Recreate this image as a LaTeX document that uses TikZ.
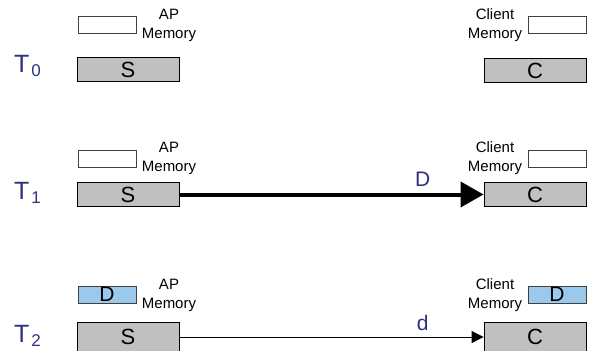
\documentclass[tikz,border=0pt]{standalone}
\usepackage{fontspec}
\setmainfont{Liberation Sans}
\usetikzlibrary{arrows.meta}
\definecolor{boxgray}{RGB}{192,192,192}
\definecolor{memblue}{RGB}{155,201,235}
\definecolor{navy}{RGB}{46,49,128}
\newcommand{\tsub}[1]{T\hspace{2pt}\raisebox{-4pt}{\fontsize{17}{17}\selectfont #1}}
\begin{document}
\begin{tikzpicture}[x=1pt,y=-1pt,
  membox/.style={draw=black!75,line width=0.9pt,minimum width=58pt,minimum height=17pt,inner sep=0pt,font=\fontsize{21}{21}\selectfont},
  entbox/.style={draw=black,line width=0.9pt,fill=boxgray,minimum width=102pt,minimum height=24pt,inner sep=0pt,font=\fontsize{22}{22}\selectfont},
  memlabel/.style={align=center,inner sep=0pt,font=\fontsize{15}{19}\selectfont},
  tlabel/.style={text=navy,inner sep=0pt,anchor=base west,font=\fontsize{25}{25}\selectfont},
  msglabel/.style={text=navy,inner sep=0pt,font=\fontsize{21}{21}\selectfont}]
\useasboundingbox (0,0) rectangle (593,350);
\clip (0,0) rectangle (593,350);
% Row T0
\node[tlabel] (t0) at (14,73) {\tsub{0}};
\node[membox] (apm0) at (107,25) {};
\node[memlabel] (apl0) at (169,25) {AP\\Memory};
\node[entbox] (s0) at (128,69.5) {S};
\node[memlabel] (cml0) at (495,25) {Client\\Memory};
\node[membox] (cm0) at (557,25) {};
\node[entbox] (c0) at (535,70.5) {C};
% Row T1
\node[tlabel] (t1) at (14,199) {\tsub{1}};
\node[membox] (apm1) at (107,158.5) {};
\node[memlabel] (apl1) at (169,158.5) {AP\\Memory};
\node[entbox] (s1) at (128,194.5) {S};
\node[memlabel] (cml1) at (495,158.5) {Client\\Memory};
\node[membox] (cm1) at (557,158.5) {};
\node[entbox] (c1) at (535,194.5) {C};
\draw[line width=4pt,-{Triangle[length=23pt,width=25pt]}] (s1.east) -- (c1.west)
  node[pos=0.8,msglabel,above=6pt] (dl1) {D};
% Row T2
\node[tlabel] (t2) at (14,342) {\tsub{2}};
\node[membox,fill=memblue] (apm2) at (107,294.5) {D};
\node[memlabel] (apl2) at (169,295) {AP\\Memory};
\node[entbox,minimum height=30pt] (s2) at (128,337) {S};
\node[memlabel] (cml2) at (495,295) {Client\\Memory};
\node[membox,fill=memblue] (cm2) at (557,294.5) {D};
\node[entbox,minimum height=30pt] (c2) at (535,337) {C};
\draw[line width=1pt,-{Triangle[length=12pt,width=12pt]}] (s2.east) -- (c2.west)
  node[pos=0.8,msglabel,above=6pt] (dl2) {d};
\end{tikzpicture}
\end{document}
